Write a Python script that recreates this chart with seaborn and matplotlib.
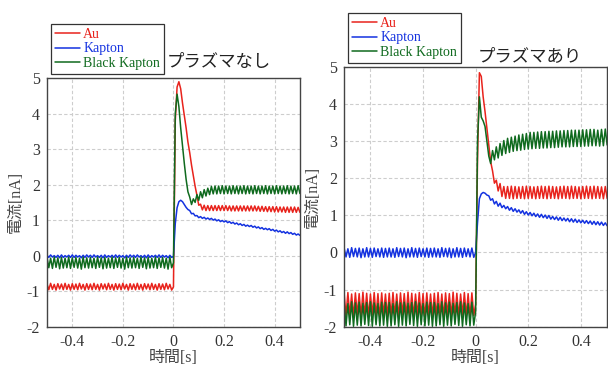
import numpy as np
import pandas as pd
import matplotlib
matplotlib.use("Agg")
import matplotlib.pyplot as plt
import seaborn as sns

# sampling grid of the recorder trace, -0.5 s .. 0.5 s (141 samples)
time_s = np.round(np.linspace(-0.5, 0.5, 141), 5)

materials = ['Au', 'Kapton', 'Black Kapton']
colors = ['#e8231c', '#1432e0', '#0f6a1e']
panel_titles = ['プラズマなし', 'プラズマあり']
x_ticks = [-0.4, -0.2, 0, 0.2, 0.4]
x_ticklabels = ['-0.4', '-0.2', '0', '0.2', '0.4']
y_ticks = [-2, -1, 0, 1, 2, 3, 4, 5]
y_ticklabels = ['-2', '-1', '0', '1', '2', '3', '4', '5']

## without plasma: current [nA], before trigger (t <= 0) and after (t > 0)
au_off_pre = [
    -0.80, -0.96, -0.78, -0.95, -0.81, -0.97, -0.79, -0.94, -0.80, -0.96, -0.78, -0.95,
    -0.81, -0.97, -0.79, -0.95, -0.80, -0.96, -0.78, -0.94, -0.81, -0.97, -0.79, -0.95,
    -0.80, -0.96, -0.78, -0.95, -0.81, -0.97, -0.79, -0.94, -0.80, -0.96, -0.78, -0.95,
    -0.81, -0.97, -0.79, -0.95, -0.80, -0.96, -0.78, -0.94, -0.81, -0.97, -0.79, -0.95,
    -0.80, -0.96, -0.78, -0.95, -0.81, -0.97, -0.79, -0.94, -0.80, -0.96, -0.78, -0.95,
    -0.81, -0.97, -0.79, -0.95, -0.80, -0.96, -0.78, -0.94, -0.81, -0.97, -0.88]
au_off_post = [
    3.80, 4.75, 4.90, 4.70, 4.30, 3.95, 3.60, 3.20, 2.90, 2.55, 2.25, 1.95,
    1.70, 1.42, 1.45, 1.29, 1.42, 1.27, 1.41, 1.27, 1.41, 1.27, 1.41, 1.27,
    1.41, 1.27, 1.41, 1.27, 1.41, 1.27, 1.40, 1.26, 1.40, 1.26, 1.40, 1.26,
    1.40, 1.26, 1.40, 1.26, 1.40, 1.26, 1.40, 1.26, 1.40, 1.26, 1.39, 1.25,
    1.39, 1.25, 1.38, 1.24, 1.38, 1.24, 1.38, 1.23, 1.38, 1.23, 1.37, 1.23,
    1.37, 1.22, 1.37, 1.22, 1.37, 1.22, 1.37, 1.22, 1.36, 1.22]

kapton_off_pre = [
    0.01, -0.05, 0.02, -0.04, 0.00, -0.05, 0.01, -0.06, 0.02, -0.05, 0.00, -0.04,
    0.01, -0.05, 0.02, -0.05, 0.01, -0.04, 0.00, -0.06, 0.01, -0.05, 0.02, -0.04,
    0.01, -0.05, 0.02, -0.04, 0.00, -0.05, 0.01, -0.06, 0.02, -0.05, 0.00, -0.04,
    0.01, -0.05, 0.02, -0.05, 0.01, -0.04, 0.00, -0.06, 0.01, -0.05, 0.02, -0.04,
    0.01, -0.05, 0.02, -0.04, 0.00, -0.05, 0.01, -0.06, 0.02, -0.05, 0.00, -0.04,
    0.01, -0.05, 0.02, -0.05, 0.01, -0.04, 0.00, -0.06, 0.01, -0.05, -0.02]
kapton_off_post = [
    0.90, 1.35, 1.52, 1.56, 1.52, 1.44, 1.36, 1.30, 1.27, 1.18, 1.19, 1.12,
    1.13, 1.07, 1.10, 1.05, 1.08, 1.03, 1.06, 1.02, 1.05, 1.00, 1.03, 0.98,
    1.01, 0.96, 0.99, 0.95, 0.98, 0.93, 0.96, 0.91, 0.94, 0.89, 0.92, 0.87,
    0.90, 0.85, 0.88, 0.83, 0.86, 0.82, 0.85, 0.80, 0.83, 0.78, 0.81, 0.76,
    0.79, 0.74, 0.77, 0.73, 0.76, 0.71, 0.74, 0.69, 0.72, 0.67, 0.70, 0.65,
    0.68, 0.63, 0.67, 0.62, 0.65, 0.60, 0.63, 0.58, 0.61, 0.57]

black_off_pre = [
    -0.05, -0.34, -0.07, -0.36, -0.04, -0.33, -0.06, -0.37, -0.05, -0.35, -0.07, -0.34,
    -0.04, -0.36, -0.06, -0.33, -0.05, -0.35, -0.07, -0.38, -0.04, -0.34, -0.06, -0.35,
    -0.05, -0.34, -0.07, -0.36, -0.04, -0.33, -0.06, -0.37, -0.05, -0.35, -0.07, -0.34,
    -0.04, -0.36, -0.06, -0.33, -0.05, -0.35, -0.07, -0.38, -0.04, -0.34, -0.06, -0.35,
    -0.05, -0.34, -0.07, -0.36, -0.04, -0.33, -0.06, -0.37, -0.05, -0.35, -0.07, -0.34,
    -0.04, -0.36, -0.06, -0.33, -0.05, -0.35, -0.07, -0.38, -0.04, -0.34, -0.20]
black_off_post = [
    4.00, 4.55, 4.20, 3.60, 3.10, 2.60, 2.15, 1.80, 1.65, 1.44, 1.60, 1.50,
    1.72, 1.56, 1.80, 1.63, 1.86, 1.68, 1.90, 1.72, 1.95, 1.74, 1.96, 1.74,
    1.96, 1.75, 1.97, 1.74, 1.96, 1.75, 1.96, 1.74, 1.97, 1.75, 1.96, 1.74,
    1.96, 1.75, 1.97, 1.74, 1.96, 1.75, 1.96, 1.74, 1.97, 1.75, 1.96, 1.74,
    1.96, 1.75, 1.97, 1.74, 1.96, 1.75, 1.96, 1.74, 1.97, 1.75, 1.96, 1.74,
    1.96, 1.75, 1.97, 1.74, 1.96, 1.75, 1.96, 1.74, 1.97, 1.75]

## with plasma
au_on_pre = [
    -1.10, -1.72, -1.08, -1.70, -1.12, -1.75, -1.09, -1.68, -1.11, -1.73, -1.07, -1.71,
    -1.10, -1.74, -1.12, -1.69, -1.08, -1.72, -1.11, -1.76, -1.09, -1.70, -1.12, -1.73,
    -1.10, -1.72, -1.08, -1.70, -1.12, -1.75, -1.09, -1.68, -1.11, -1.73, -1.07, -1.71,
    -1.10, -1.74, -1.12, -1.69, -1.08, -1.72, -1.11, -1.76, -1.09, -1.70, -1.12, -1.73,
    -1.10, -1.72, -1.08, -1.70, -1.12, -1.75, -1.09, -1.68, -1.11, -1.73, -1.07, -1.71,
    -1.10, -1.74, -1.12, -1.69, -1.08, -1.72, -1.11, -1.76, -1.09, -1.70, -1.40]
au_on_post = [
    2.50, 4.85, 4.75, 4.20, 3.80, 3.35, 2.90, 2.45, 2.20, 1.87, 1.95, 1.66,
    1.86, 1.51, 1.78, 1.46, 1.78, 1.46, 1.79, 1.45, 1.78, 1.46, 1.77, 1.46,
    1.78, 1.45, 1.79, 1.46, 1.78, 1.46, 1.77, 1.45, 1.78, 1.46, 1.79, 1.46,
    1.78, 1.45, 1.79, 1.46, 1.78, 1.46, 1.77, 1.45, 1.78, 1.46, 1.79, 1.46,
    1.78, 1.45, 1.79, 1.46, 1.78, 1.46, 1.77, 1.45, 1.78, 1.46, 1.79, 1.46,
    1.78, 1.45, 1.79, 1.46, 1.78, 1.46, 1.77, 1.45, 1.78, 1.46]

kapton_on_pre = [
    0.12, -0.12, 0.10, -0.13, 0.13, -0.11, 0.11, -0.12, 0.12, -0.14, 0.10, -0.12,
    0.13, -0.12, 0.11, -0.13, 0.12, -0.11, 0.10, -0.12, 0.12, -0.13, 0.11, -0.12,
    0.12, -0.12, 0.10, -0.13, 0.13, -0.11, 0.11, -0.12, 0.12, -0.14, 0.10, -0.12,
    0.13, -0.12, 0.11, -0.13, 0.12, -0.11, 0.10, -0.12, 0.12, -0.13, 0.11, -0.12,
    0.12, -0.12, 0.10, -0.13, 0.13, -0.11, 0.11, -0.12, 0.12, -0.14, 0.10, -0.12,
    0.13, -0.12, 0.11, -0.13, 0.12, -0.11, 0.10, -0.12, 0.12, -0.13, 0.00]
kapton_on_post = [
    0.80, 1.45, 1.58, 1.62, 1.60, 1.55, 1.53, 1.41, 1.45, 1.31, 1.38, 1.25,
    1.33, 1.21, 1.27, 1.18, 1.24, 1.14, 1.21, 1.11, 1.18, 1.09, 1.15, 1.06,
    1.13, 1.03, 1.10, 1.01, 1.08, 0.99, 1.06, 0.97, 1.04, 0.95, 1.03, 0.94,
    1.01, 0.92, 1.00, 0.90, 0.97, 0.89, 0.96, 0.87, 0.95, 0.86, 0.93, 0.85,
    0.92, 0.83, 0.91, 0.82, 0.90, 0.81, 0.88, 0.80, 0.87, 0.79, 0.86, 0.78,
    0.85, 0.76, 0.84, 0.75, 0.83, 0.74, 0.82, 0.73, 0.80, 0.72]

black_on_pre = [
    -1.35, -1.98, -1.38, -1.95, -1.33, -1.99, -1.36, -1.96, -1.34, -1.98, -1.37, -1.94,
    -1.35, -1.97, -1.33, -1.99, -1.36, -1.95, -1.38, -1.98, -1.34, -1.96, -1.35, -1.99,
    -1.35, -1.98, -1.38, -1.95, -1.33, -1.99, -1.36, -1.96, -1.34, -1.98, -1.37, -1.94,
    -1.35, -1.97, -1.33, -1.99, -1.36, -1.95, -1.38, -1.98, -1.34, -1.96, -1.35, -1.99,
    -1.35, -1.98, -1.38, -1.95, -1.33, -1.99, -1.36, -1.96, -1.34, -1.98, -1.37, -1.94,
    -1.35, -1.97, -1.33, -1.99, -1.36, -1.95, -1.38, -1.98, -1.34, -1.96, -1.60]
black_on_post = [
    3.00, 4.20, 3.65, 3.55, 3.40, 3.00, 2.60, 2.40, 2.75, 2.50, 2.85, 2.55,
    2.94, 2.62, 3.02, 2.67, 3.08, 2.70, 3.11, 2.73, 3.14, 2.75, 3.17, 2.76,
    3.19, 2.78, 3.21, 2.79, 3.24, 2.80, 3.24, 2.81, 3.25, 2.81, 3.26, 2.82,
    3.26, 2.82, 3.27, 2.83, 3.27, 2.83, 3.28, 2.84, 3.28, 2.85, 3.29, 2.85,
    3.29, 2.85, 3.30, 2.86, 3.30, 2.86, 3.30, 2.86, 3.31, 2.87, 3.31, 2.87,
    3.32, 2.88, 3.32, 2.88, 3.30, 2.87, 3.32, 2.88, 3.33, 2.90]

no_plasma = [au_off_pre + au_off_post, kapton_off_pre + kapton_off_post,
             black_off_pre + black_off_post]
with_plasma = [au_on_pre + au_on_post, kapton_on_pre + kapton_on_post,
               black_on_pre + black_on_post]


def make_frame(series):
    frames = []
    for name, vals in zip(materials, series):
        frames.append(pd.DataFrame({'time': time_s, 'current': vals, 'material': name}))
    return pd.concat(frames, ignore_index=True)


sns.set_style('whitegrid')
plt.rcParams['font.family'] = ['Liberation Serif', 'Noto Sans CJK JP', 'DejaVu Sans']

fig = plt.figure(figsize=(6.08, 3.67), dpi=100)
ax1 = fig.add_axes([0.0773, 0.11, 0.416, 0.677])
ax2 = fig.add_axes([0.566, 0.11, 0.4326, 0.707])

palette = dict(zip(materials, colors))
title_pos = [(0.68, 1.064), (0.707, 1.042)]

for ax, series, title, tpos in zip([ax1, ax2], [no_plasma, with_plasma], panel_titles, title_pos):
    df = make_frame(series)
    sns.lineplot(data=df, x='time', y='current', hue='material', palette=palette,
                 linewidth=1.1, estimator=None, sort=False, ax=ax)
    ax.set_xlim(-0.5, 0.5)
    ax.set_ylim(-2, 5)
    ax.set_xticks(x_ticks)
    ax.set_xticklabels(x_ticklabels)
    ax.set_yticks(y_ticks)
    ax.set_yticklabels(y_ticklabels)
    ax.grid(True, color='#cdcdcd', linestyle=(0, (3, 2)), linewidth=0.8)
    for sp in ax.spines.values():
        sp.set_color('#444444')
        sp.set_linewidth(1.0)
    ax.tick_params(labelsize=11.5, pad=1.5, colors='#333333')
    ax.set_xlabel('時間[s]', fontsize=11.5, color='#444444', labelpad=0)
    ax.set_ylabel('電流[nA]', fontsize=11.5, color='#444444', labelpad=2)
    sns.move_legend(ax, 'lower left', bbox_to_anchor=(0, 1.0), title=None,
                    borderaxespad=0.3, frameon=True, fancybox=False, edgecolor='#333333',
                    framealpha=1, labelcolor='linecolor', handlelength=1.8,
                    handletextpad=0.2, labelspacing=0.1, borderpad=0.3, fontsize=10)
    ax.get_legend().get_frame().set_linewidth(0.9)
    ax.text(tpos[0], tpos[1], title, transform=ax.transAxes, ha='center', va='center',
            fontsize=12.5, color='#222222', family=['Noto Sans CJK JP'])

fig.savefig('out.png', dpi=100)
